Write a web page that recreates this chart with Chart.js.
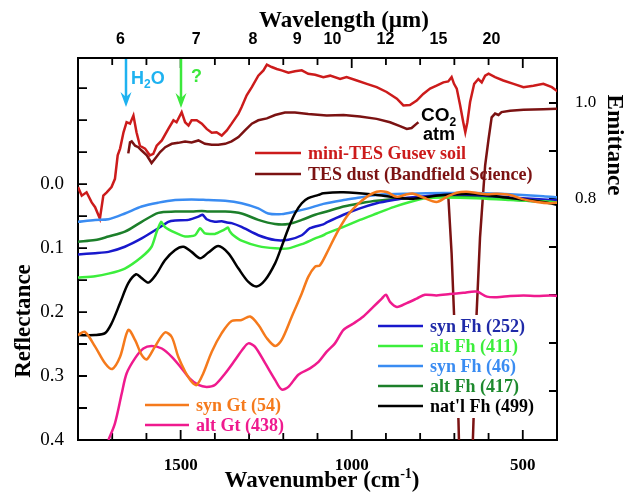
<!DOCTYPE html>
<html>
<head>
<meta charset="utf-8">
<script src="https://cdn.jsdelivr.net/npm/chart.js@4.4.1/dist/chart.umd.min.js"></script>
<style>
  html, body { margin: 0; padding: 0; background: #fff; }
  #wrap { width: 632px; height: 495px; }
</style>
</head>
<body>
<div id="wrap"><canvas id="c" width="632" height="495"></canvas></div>
<script>
  var SERIF = '"Liberation Serif", "Times New Roman", serif';
  var SANS = '"Liberation Sans", Arial, sans-serif';

  // axis ticks
  var waveLabels = [6, 7, 8, 9, 10, 12, 15, 20];   // µm, top axis
  var wavenumTicks = [500, 1000, 1500];            // cm-1, bottom axis
  var reflTicks = [0, 0.1, 0.2, 0.3, 0.4];
  var emitTicks = [0.8, 1.0];

  // emittance spectra [wavenumber, emittance]
  var gusevSoil = [[1800,0.825],[1789,0.807],[1775,0.814],[1760,0.793],[1750,0.783],[1736,0.759],[1726,0.807],[1716,0.814],
    [1702,0.825],[1692,0.842],[1684,0.891],[1677,0.905],[1667,0.939],[1658,0.960],[1648,0.957],[1638,0.974],[1629,0.939],
    [1619,0.911],[1604,0.905],[1590,0.891],[1580,0.894],[1570,0.911],[1555,0.922],[1536,0.946],[1521,0.964],[1512,0.960],
    [1497,0.981],[1487,0.960],[1477,0.953],[1468,0.964],[1453,0.964],[1438,0.957],[1424,0.946],[1409,0.938],[1395,0.939],
    [1380,0.932],[1365,0.943],[1351,0.957],[1331,0.978],[1322,0.991],[1307,1.016],[1292,1.033],[1273,1.057],[1258,1.068],
    [1248,1.080],[1234,1.075],[1219,1.071],[1205,1.068],[1185,1.063],[1166,1.066],[1146,1.068],[1127,1.061],[1107,1.059],
    [1083,1.054],[1063,1.057],[1034,1.050],[1015,1.054],[985,1.047],[956,1.040],[927,1.033],[898,1.023],[868,1.009],
    [849,0.995],[830,0.996],[810,1.005],[791,1.019],[771,1.030],[752,1.036],[732,1.043],[718,1.045],[708,1.054],[701,1.040],
    [693,1.030],[683,0.995],[674,0.960],[668,0.939],[662,0.960],[654,1.002],[642,1.040],[630,1.050],[620,1.043],[610,1.057],
    [600,1.061],[581,1.054],[557,1.047],[527,1.040],[498,1.033],[469,1.036],[440,1.040],[415,1.033],[396,1.023]];

  var tesDust = [[1653,0.895],[1648,0.918],[1643,0.920],[1633,0.911],[1624,0.908],[1614,0.901],[1599,0.891],[1585,0.875],
    [1575,0.884],[1560,0.898],[1545,0.908],[1526,0.915],[1507,0.917],[1487,0.920],[1468,0.918],[1448,0.922],[1429,0.915],
    [1409,0.913],[1390,0.913],[1370,0.915],[1351,0.920],[1331,0.929],[1312,0.943],[1292,0.957],[1273,0.964],[1248,0.968],
    [1224,0.975],[1195,0.980],[1166,0.980],[1127,0.977],[1073,0.974],[1024,0.975],[976,0.972],[927,0.967],[888,0.960],
    [859,0.952],[839,0.946],[825,0.948],[810,0.957],[805,0.960],[760,null],
    [718,0.810],[708,0.686],[701,0.561],[688,0.339],[680,0.100],[655,0.100],[644,0.339],[635,0.561],[625,0.720],[615,0.821],
    [610,0.870],[600,0.925],[591,0.970],[581,0.978],[571,0.975],[562,0.981],[537,0.984],[498,0.986],[440,0.987],[396,0.988]];

  // reflectance spectra [wavenumber, reflectance]
  var synFh46 = [[1800,0.059],[1750,0.056],[1711,0.055],[1663,0.046],[1614,0.035],[1565,0.029],[1516,0.025],[1468,0.024],
    [1419,0.025],[1370,0.026],[1322,0.030],[1273,0.038],[1244,0.046],[1205,0.047],[1166,0.043],[1127,0.038],[1083,0.031],
    [1024,0.025],[976,0.021],[927,0.017],[830,0.015],[732,0.014],[635,0.014],[537,0.016],[440,0.019],[396,0.021]];

  var altFh417 = [[1800,0.090],[1750,0.0875],[1711,0.082],[1663,0.0745],[1614,0.059],[1565,0.045],[1516,0.043],[1468,0.043],
    [1438,0.042],[1419,0.043],[1370,0.043],[1322,0.046],[1273,0.056],[1224,0.0625],[1185,0.0625],[1146,0.056],[1107,0.048],
    [1073,0.043],[1024,0.035],[976,0.030],[927,0.026],[830,0.022],[732,0.019],[635,0.020],[537,0.024],[440,0.028],[396,0.030]];

  var synFh252 = [[1800,0.110],[1750,0.108],[1711,0.106],[1663,0.098],[1614,0.085],[1565,0.069],[1536,0.059],[1516,0.057],
    [1477,0.056],[1448,0.051],[1436,0.048],[1424,0.055],[1400,0.059],[1380,0.058],[1365,0.060],[1351,0.061],[1322,0.067],
    [1273,0.080],[1224,0.0875],[1185,0.087],[1146,0.080],[1122,0.069],[1083,0.063],[1073,0.060],[1024,0.048],[976,0.038],
    [927,0.030],[878,0.025],[830,0.021],[732,0.017],[635,0.017],[537,0.021],[440,0.024],[396,0.026]];

  var altFh411 = [[1800,0.146],[1750,0.144],[1711,0.140],[1663,0.132],[1614,0.114],[1585,0.098],[1570,0.0745],[1557,0.059],
    [1546,0.067],[1516,0.076],[1487,0.082],[1458,0.080],[1443,0.069],[1429,0.077],[1400,0.078],[1375,0.072],[1362,0.068],
    [1356,0.074],[1346,0.080],[1322,0.0885],[1273,0.097],[1224,0.1005],[1185,0.1005],[1146,0.094],[1107,0.085],[1083,0.080],
    [1073,0.077],[1024,0.067],[976,0.056],[927,0.046],[878,0.036],[830,0.028],[781,0.022],[732,0.021],[635,0.022],
    [537,0.025],[440,0.027],[396,0.029]];

  var natFh499 = [[1800,0.236],[1750,0.236],[1721,0.233],[1702,0.218],[1677,0.186],[1653,0.155],[1630,0.141],[1614,0.147],
    [1594,0.154],[1570,0.140],[1546,0.119],[1516,0.103],[1492,0.098],[1468,0.106],[1443,0.116],[1419,0.107],[1390,0.097],
    [1361,0.108],[1331,0.132],[1302,0.153],[1278,0.160],[1253,0.150],[1224,0.124],[1205,0.098],[1185,0.069],[1166,0.046],
    [1146,0.030],[1127,0.022],[1097,0.017],[1083,0.0145],[1024,0.013],[927,0.017],[830,0.023],[732,0.017],[635,0.016],
    [537,0.022],[440,0.028],[396,0.033]];

  var synGt54 = [[1800,0.236],[1780,0.231],[1750,0.254],[1721,0.280],[1700,0.289],[1677,0.270],[1653,0.228],[1633,0.244],
    [1614,0.267],[1599,0.274],[1575,0.254],[1546,0.232],[1526,0.239],[1507,0.270],[1487,0.293],[1468,0.309],[1453,0.314],
    [1434,0.296],[1409,0.262],[1380,0.233],[1351,0.214],[1322,0.2125],[1297,0.207],[1273,0.220],[1248,0.241],[1224,0.253],
    [1205,0.244],[1175,0.207],[1146,0.171],[1127,0.145],[1107,0.129],[1093,0.127],[1073,0.108],[1044,0.077],[1015,0.051],
    [985,0.033],[956,0.020],[927,0.012],[898,0.0125],[868,0.020],[839,0.016],[820,0.015],[791,0.021],[752,0.028],[722,0.020],
    [693,0.0135],[664,0.012],[635,0.014],[605,0.016],[576,0.015],[537,0.017],[498,0.024],[459,0.028],[420,0.030],[396,0.029]];

  var altGt438 = [[1711,0.400],[1692,0.374],[1672,0.327],[1658,0.296],[1633,0.272],[1609,0.257],[1585,0.253],[1555,0.257],
    [1526,0.270],[1497,0.288],[1473,0.304],[1448,0.314],[1424,0.317],[1400,0.314],[1370,0.296],[1341,0.275],[1317,0.257],
    [1302,0.249],[1283,0.254],[1253,0.280],[1224,0.306],[1205,0.321],[1185,0.317],[1156,0.298],[1122,0.288],[1097,0.278],
    [1073,0.262],[1049,0.249],[1024,0.228],[995,0.218],[966,0.207],[937,0.192],[912,0.179],[900,0.173],[888,0.184],
    [868,0.192],[839,0.186],[810,0.179],[786,0.173],[752,0.174],[713,0.172],[674,0.170],[635,0.168],[605,0.176],[576,0.177],
    [537,0.175],[498,0.174],[459,0.175],[420,0.174],[396,0.175]];

  function toXY(arr) {
    return arr.map(function (p) { return { x: p[0], y: p[1] }; });
  }

  function ds(label, data, color, axis, tension, textColor) {
    return {
      label: label, data: toXY(data), borderColor: color, backgroundColor: color,
      borderWidth: 2.5, pointRadius: 0, tension: tension, yAxisID: axis,
      spanGaps: false, textColor: textColor || color
    };
  }

  // index 0 is drawn last (on top)
  var datasets = [
    ds('syn Gt (54)', synGt54, '#f57a1c', 'y', 0.3),
    ds('alt Gt (438)', altGt438, '#ef1a8e', 'y', 0.3),
    ds("nat'l Fh (499)", natFh499, '#000000', 'y', 0.3),
    ds('alt Fh (411)', altFh411, '#3cee3c', 'y', 0.2),
    ds('syn Fh (252)', synFh252, '#1818cc', 'y', 0.2, '#1f2aa8'),
    ds('alt Fh (417)', altFh417, '#1c7f2a', 'y', 0.3, '#1e8a2e'),
    ds('syn Fh (46)', synFh46, '#3a8cf2', 'y', 0.3),
    ds('TES dust (Bandfield Science)', tesDust, '#7b1212', 'y2', 0),
    ds('mini-TES Gusev soil', gusevSoil, '#cc1b1b', 'y2', 0)
  ];

  function byLabel(l) {
    for (var i = 0; i < datasets.length; i++) if (datasets[i].label === l) return datasets[i];
  }

  function legendRow(ctx, x0, x1, y, label, fontSize) {
    var d = byLabel(label);
    ctx.strokeStyle = d.borderColor;
    ctx.lineWidth = 2.5;
    ctx.beginPath(); ctx.moveTo(x0, y); ctx.lineTo(x1, y); ctx.stroke();
    ctx.fillStyle = d.textColor;
    ctx.font = 'bold ' + fontSize + 'px ' + SERIF;
    ctx.textAlign = 'left';
    ctx.textBaseline = 'middle';
    ctx.fillText(label, x1 + 7, y + 1);
  }

  function arrow(ctx, x, y0, y1, color) {
    ctx.strokeStyle = color; ctx.fillStyle = color; ctx.lineWidth = 2.5;
    ctx.beginPath(); ctx.moveTo(x, y0); ctx.lineTo(x, y1 - 8); ctx.stroke();
    ctx.beginPath();
    ctx.moveTo(x, y1); ctx.lineTo(x - 5.5, y1 - 15); ctx.lineTo(x, y1 - 10); ctx.lineTo(x + 5.5, y1 - 15);
    ctx.closePath(); ctx.fill();
  }

  // text with a subscript / superscript piece: parts = [[text, size, dy], ...]
  function richText(ctx, parts, x, y, align, weightFamily) {
    var total = 0, i;
    for (i = 0; i < parts.length; i++) {
      ctx.font = weightFamily.replace('SZ', parts[i][1]);
      total += ctx.measureText(parts[i][0]).width;
    }
    var cx = align === 'center' ? x - total / 2 : x;
    ctx.textAlign = 'left';
    for (i = 0; i < parts.length; i++) {
      ctx.font = weightFamily.replace('SZ', parts[i][1]);
      ctx.fillText(parts[i][0], cx, y + parts[i][2]);
      cx += ctx.measureText(parts[i][0]).width;
    }
  }

  var decor = {
    id: 'decor',
    beforeDatasetsDraw: function (chart) {
      var ctx = chart.ctx, a = chart.chartArea, s = chart.scales;
      ctx.save();
      ctx.strokeStyle = '#000';
      ctx.lineWidth = 1.8;
      ctx.beginPath();
      for (var v = 500; v <= 1700; v += 100) {
        var px = s.x.getPixelForValue(v);
        var len = v % 500 === 0 ? 10 : 7;
        ctx.moveTo(px, a.bottom); ctx.lineTo(px, a.bottom - len);
        ctx.moveTo(px, a.top); ctx.lineTo(px, a.top + len);
      }
      for (var k = -3; k <= 8; k++) {
        var py = s.y.getPixelForValue(k * 0.05);
        ctx.moveTo(a.left, py); ctx.lineTo(a.left + 9, py);
      }
      for (var j = 4; j <= 10; j++) {
        var py2 = s.y2.getPixelForValue(j / 10);
        ctx.moveTo(a.right, py2); ctx.lineTo(a.right - 8, py2);
      }
      ctx.stroke();
      ctx.restore();
    },
    afterDatasetsDraw: function (chart) {
      var ctx = chart.ctx;
      ctx.save();

      // emittance legend
      legendRow(ctx, 255, 301, 153, 'mini-TES Gusev soil', 18);
      legendRow(ctx, 255, 301, 174, 'TES dust (Bandfield Science)', 18);

      // goethite legend
      legendRow(ctx, 145, 189, 405, 'syn Gt (54)', 18);
      legendRow(ctx, 145, 189, 425, 'alt Gt (438)', 18);

      // ferrihydrite legend on a white box
      ctx.fillStyle = '#fff';
      ctx.fillRect(374, 315, 166, 103);
      var fh = ['syn Fh (252)', 'alt Fh (411)', 'syn Fh (46)', 'alt Fh (417)', "nat'l Fh (499)"];
      for (var i = 0; i < fh.length; i++) legendRow(ctx, 378, 423, 326 + i * 20, fh[i], 18);

      // band markers
      arrow(ctx, 126, 59, 107, '#1eb2f0');
      ctx.fillStyle = '#1eb2f0';
      ctx.textBaseline = 'alphabetic';
      richText(ctx, [['H', 18, 0], ['2', 12, 4], ['O', 18, 0]], 131, 84, 'left', 'bold SZpx ' + SANS);
      arrow(ctx, 181, 59, 108, '#3ce83c');
      ctx.fillStyle = '#3ce83c';
      ctx.font = 'bold 18px ' + SANS;
      ctx.textAlign = 'left';
      ctx.fillText('?', 191, 82);

      ctx.fillStyle = '#000';
      richText(ctx, [['CO', 19, 0], ['2', 12, 5]], 421, 121, 'left', 'bold SZpx ' + SANS);
      ctx.font = 'bold 18px ' + SANS;
      ctx.textAlign = 'left';
      ctx.fillText('atm', 423, 140);

      // axis titles
      ctx.fillStyle = '#000';
      ctx.font = 'bold 23px ' + SERIF;
      ctx.textAlign = 'center';
      ctx.textBaseline = 'alphabetic';
      ctx.fillText('Wavelength (\u00b5m)', 344, 27);
      richText(ctx, [['Wavenumber (cm', 23, 0], ['-1', 14, -9], [')', 23, 0]], 322, 487, 'center', 'bold SZpx ' + SERIF);

      ctx.save();
      ctx.translate(24, 321);
      ctx.rotate(-Math.PI / 2);
      ctx.font = 'bold 23px ' + SERIF;
      ctx.textAlign = 'center';
      ctx.textBaseline = 'middle';
      ctx.fillText('Reflectance', 0, 0);
      ctx.restore();

      ctx.save();
      ctx.translate(614, 145);
      ctx.rotate(Math.PI / 2);
      ctx.font = 'bold 23px ' + SERIF;
      ctx.textAlign = 'center';
      ctx.textBaseline = 'middle';
      ctx.fillText('Emittance', 0, 0);
      ctx.restore();

      ctx.restore();
    }
  };

  function fixed(list) {
    return function (scale) { scale.ticks = list.map(function (v) { return { value: v }; }); };
  }

  new Chart(document.getElementById('c'), {
    type: 'line',
    data: { datasets: datasets },
    options: {
      responsive: false,
      animation: false,
      devicePixelRatio: 1,
      layout: { padding: 0 },
      plugins: { legend: { display: false }, tooltip: { enabled: false } },
      scales: {
        x: {
          type: 'linear', position: 'bottom', min: 400, max: 1800, reverse: true,
          afterBuildTicks: fixed(wavenumTicks),
          afterFit: function (s) { s.height = 55; },
          grid: { display: false },
          border: { display: true, color: '#000', width: 2 },
          ticks: {
            color: '#000', padding: 7, font: { family: SERIF, size: 17, weight: 'bold' },
            callback: function (v) { return String(v); }
          }
        },
        xTop: {
          type: 'linear', position: 'top', min: 294, max: 1800, reverse: true,
          afterBuildTicks: fixed(waveLabels.map(function (w) { return 10000 / w; })),
          afterFit: function (s) { s.height = 58; },
          grid: { display: false },
          border: { display: true, color: '#000', width: 2 },
          ticks: {
            color: '#000', padding: 1, font: { family: SANS, size: 16, weight: 'bold' },
            callback: function (v) { return String(Math.round(10000 / v)); }
          }
        },
        y: {
          type: 'linear', position: 'left', min: -0.197, max: 0.4, reverse: true,
          afterBuildTicks: fixed(reflTicks),
          afterFit: function (s) { s.width = 78; },
          grid: { display: false },
          border: { display: true, color: '#000', width: 2 },
          ticks: {
            color: '#000', padding: 6, font: { family: SERIF, size: 19 },
            callback: function (v) { return v.toFixed(1); }
          }
        },
        y2: {
          type: 'linear', position: 'right', min: 0.2979, max: 1.0938,
          afterBuildTicks: fixed(emitTicks),
          afterFit: function (s) { s.width = 75; },
          grid: { display: false },
          border: { display: true, color: '#000', width: 2 },
          ticks: {
            color: '#000', padding: 10, font: { family: SERIF, size: 17 },
            callback: function (v) { return v.toFixed(1); }
          }
        }
      }
    },
    plugins: [decor]
  });
</script>
</body>
</html>
